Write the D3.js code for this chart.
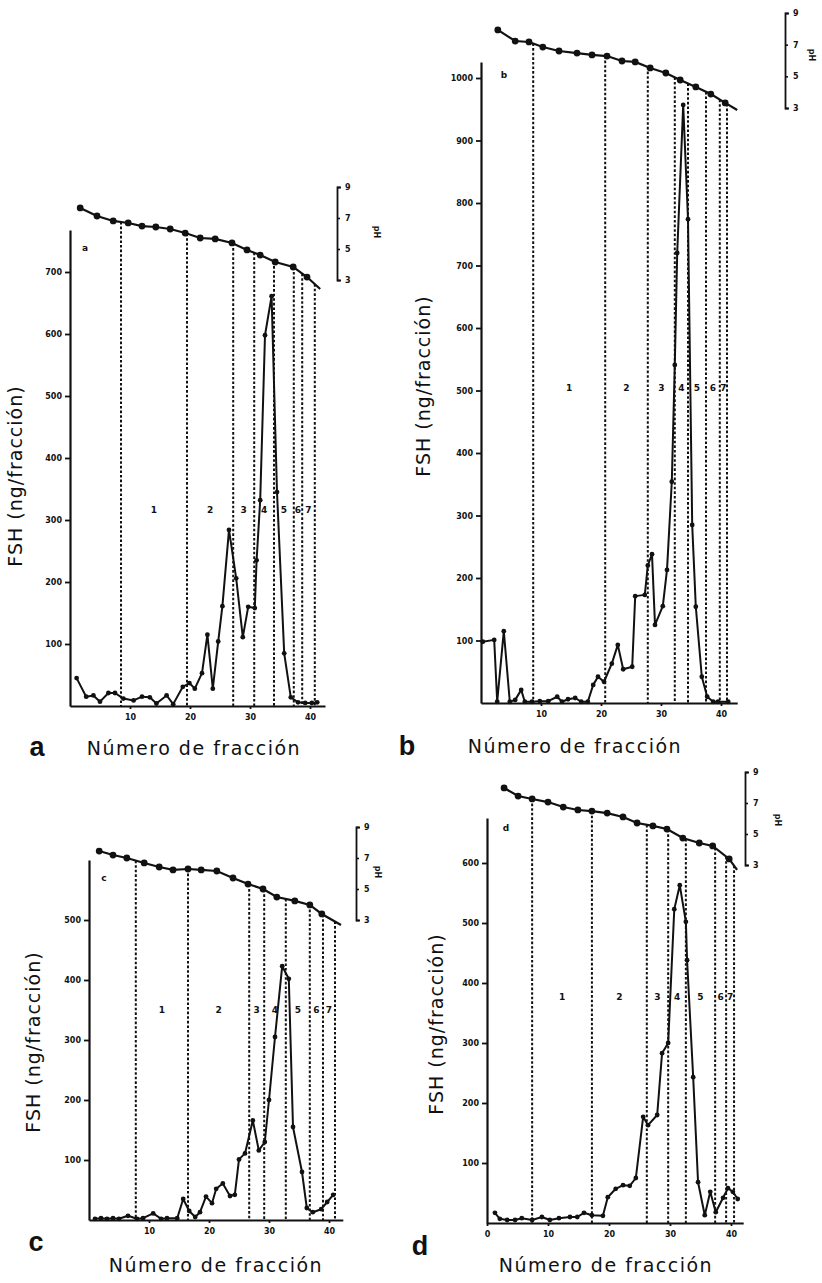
<!DOCTYPE html>
<html>
<head>
<meta charset="utf-8">
<script src="https://cdn.jsdelivr.net/npm/d3@7"></script>
<style>
  body { margin: 0; background: #fff; }
  svg { display: block; }
</style>
</head>
<body>
<div id="chart"></div>
<script>
// FSH per fraction, four isoelectric focusing runs (a, b, c, d)

var fracA = [1.1, 2.7, 3.9, 5, 6.4, 7.5, 8.9, 10.6, 12, 13.3, 14.4, 16.1, 17.2, 18.8, 19.9, 20.8, 22, 22.9, 23.8, 24.7, 25.4, 26.5, 27.7, 28.8, 29.7, 30.8, 31.1, 31.7, 32.5, 33.6, 34.5, 35.7, 36.8, 38, 39.2, 40.3, 41.2];
var fshA  = [45, 15, 17, 7, 21, 21, 12, 9, 15, 14, 4, 17, 3, 31, 37, 28, 53, 115, 28, 104, 161, 284, 206, 111, 160, 158, 235, 332, 598, 661, 345, 85, 14, 6, 5, 5, 6];

var fracB = [0.3, 2.2, 2.7, 3.8, 4.8, 5.7, 6.7, 7.3, 8.5, 9.8, 11.2, 12.7, 13.5, 14.5, 15.7, 16.7, 17.8, 18.7, 19.5, 20.5, 21.8, 22.8, 23.7, 25.2, 25.7, 27.3, 27.8, 28.5, 29, 30.3, 31, 31.8, 32.3, 32.7, 33.7, 34.5, 35.2, 35.8, 36.8, 37.7, 38.7, 39.5, 41.2];
var fshB  = [98, 101, 2, 115, 2, 5, 21, 2, 2, 3, 3, 10, 2, 6, 8, 2, 2, 29, 42, 34, 63, 93, 54, 58, 171, 173, 220, 238, 125, 155, 213, 354, 541, 720, 957, 774, 285, 154, 42, 10, 2, 2, 2];

var fracC = [1, 2, 3, 4, 5, 6.5, 8, 9, 10.7, 12, 13, 14.7, 15.7, 16.7, 17.7, 18.5, 19.5, 20.5, 21.2, 22.3, 23.5, 24.3, 25, 26, 27.3, 28.3, 29.3, 30, 31, 32.2, 33.3, 34, 35.5, 36.3, 37.3, 38.7, 39.7, 40.7];
var fshC  = [2, 3, 2, 3, 2, 7, 2, 3, 11, 2, 3, 3, 35, 15, 5, 13, 39, 28, 52, 61, 40, 42, 101, 111, 166, 116, 130, 200, 305, 423, 402, 155, 80, 20, 13, 18, 30, 42];

var fracD = [1.3, 2.1, 3.3, 4.6, 5.7, 7.4, 9, 10.3, 11.8, 13.6, 14.8, 15.9, 17.2, 19, 19.8, 21.1, 22.3, 23.4, 24.4, 25.6, 26.4, 27.9, 28.7, 29.7, 30.7, 31.6, 32.6, 32.8, 33.8, 34.6, 35.7, 36.6, 37.5, 38.7, 39.5, 40.3, 41.1];
var fshD  = [17, 7, 5, 5, 8, 5, 10, 5, 8, 10, 10, 17, 13, 12, 43, 57, 63, 62, 75, 177, 163, 180, 283, 300, 523, 563, 502, 438, 243, 68, 13, 52, 18, 42, 58, 52, 40];

// pH gradient (last entry is the end of the line, drawn without a dot)
var phFracA = [1.7, 4.5, 7.2, 9.7, 12, 14.3, 16.7, 19.2, 21.7, 24.2, 27, 29.5, 31.7, 34.2, 37.2, 39.5, 41.7];
var phA     = [7.65, 7.13, 6.81, 6.68, 6.48, 6.42, 6.29, 6.03, 5.71, 5.65, 5.39, 4.94, 4.61, 4.16, 3.84, 3.19, 2.42];
var phFracB = [2.8, 5.7, 8, 10.3, 13, 16, 18.5, 21, 23.5, 25.7, 28.2, 30.8, 33.2, 35.8, 38.3, 40.7, 42.7];
var phB     = [7.93, 7.23, 7.17, 6.85, 6.6, 6.47, 6.35, 6.28, 5.97, 5.91, 5.53, 5.21, 4.77, 4.33, 3.88, 3.32, 2.87];
var phFracC = [1.7, 4, 6.3, 9.2, 11.7, 14, 16.5, 18.7, 21.3, 24, 26.5, 29, 31.3, 34.3, 36.8, 38.8, 42];
var phC     = [7.45, 7.19, 7.0, 6.68, 6.42, 6.23, 6.29, 6.23, 6.16, 5.71, 5.32, 5.0, 4.48, 4.23, 3.97, 3.39, 2.68];
var phFracD = [2.8, 5.1, 7.4, 10, 12.5, 14.9, 17.2, 19.7, 22.3, 24.6, 27.2, 29.5, 32.1, 34.8, 37, 39.7, 41];
var phD     = [7.97, 7.45, 7.26, 7.06, 6.74, 6.55, 6.48, 6.35, 6.1, 5.71, 5.52, 5.32, 4.74, 4.42, 4.23, 3.39, 2.68];

// fraction cut points (dashed lines) and the peak names between them
var cutsA = [8.5, 19.5, 27.2, 30.7, 34, 37.3, 38.7, 40.8];
var cutsB = [8.7, 20.7, 27.8, 32.3, 34.5, 37.5, 39.8, 41];
var cutsC = [7.8, 16.5, 26.7, 29.2, 32.8, 36.8, 39, 41];
var cutsD = [7.4, 17.2, 26.2, 29.7, 32.6, 37.4, 39.2, 40.5];
var peakNames = ["1", "2", "3", "4", "5", "6", "7"];

var yTicksA = [100, 200, 300, 400, 500, 600, 700];
var yTicksB = [100, 200, 300, 400, 500, 600, 700, 800, 900, 1000];
var yTicksC = [100, 200, 300, 400, 500];
var yTicksD = [100, 200, 300, 400, 500, 600];
var xTicks = [10, 20, 30, 40];
var xTicksD = [0, 10, 20, 30, 40];
var phTicks = [3, 5, 7, 9];

var yTitle = "FSH (ng/fracción)";
var xTitle = "Número de fracción";

// layout of each panel on the page (pixels)
var panels = [
  {id: "a", frac: fracA, fsh: fshA, phFrac: phFracA, ph: phA, cuts: cutsA, yTicks: yTicksA, xTicks: xTicks,
   x0: 70, pxFrac: 6, xMax: 42.5, y0: 706, pxUnit: 0.62, yTop: 230,
   phX: 337, phTop: 187, phBot: 280, phLabel: [377, 232], peakY: 513,
   inner: [85, 251], letter: [37, 756], title: [194, 755], yt: [15, 476]},
  {id: "b", frac: fracB, fsh: fshB, phFrac: phFracB, ph: phB, cuts: cutsB, yTicks: yTicksB, xTicks: xTicks,
   x0: 481, pxFrac: 6, xMax: 42.7, y0: 703, pxUnit: 0.625, yTop: 62,
   phX: 785, phTop: 13, phBot: 108, phLabel: [812, 55], peakY: 391,
   inner: [504, 78], letter: [407, 755], title: [575, 753], yt: [423, 386]},
  {id: "c", frac: fracC, fsh: fshC, phFrac: phFracC, ph: phC, cuts: cutsC, yTicks: yTicksC, xTicks: xTicks,
   x0: 89, pxFrac: 6, xMax: 42.3, y0: 1220, pxUnit: 0.6, yTop: 860,
   phX: 356, phTop: 827, phBot: 920, phLabel: [378, 872], peakY: 1013,
   inner: [104, 881], letter: [36, 1251], title: [216, 1272], yt: [33, 1042]},
  {id: "d", frac: fracD, fsh: fshD, phFrac: phFracD, ph: phD, cuts: cutsD, yTicks: yTicksD, xTicks: xTicksD,
   x0: 487, pxFrac: 6.1, xMax: 42, y0: 1223, pxUnit: 0.6, yTop: 818,
   phX: 745, phTop: 772, phBot: 865, phLabel: [778, 820], peakY: 1000,
   inner: [506, 831], letter: [420, 1255], title: [606, 1272], yt: [436, 1024]}
];

var ink = "#111";
var fmt = d3.format("d");

var svg = d3.select("#chart")
  .append("svg")
    .attr("width", 822)
    .attr("height", 1283)
    .style("background", "#fff");

panels.forEach(function(p) {
  var g = svg.append("g");

  var x = d3.scaleLinear()
    .domain([0, p.xMax])
    .range([p.x0, p.x0 + p.xMax * p.pxFrac]);
  var y = d3.scaleLinear()
    .domain([0, (p.y0 - p.yTop) / p.pxUnit])
    .range([p.y0, p.yTop]);
  var yPh = d3.scaleLinear()
    .domain([3, 9])
    .range([p.phBot, p.phTop]);

  // pH value at a given fraction
  var phAt = function(f) {
    var i = d3.bisectRight(p.phFrac, f);
    if (i <= 0) return p.ph[0];
    if (i >= p.phFrac.length) return p.ph[p.ph.length - 1];
    var t = (f - p.phFrac[i - 1]) / (p.phFrac[i] - p.phFrac[i - 1]);
    return p.ph[i - 1] + t * (p.ph[i] - p.ph[i - 1]);
  };

  // dashed cut lines
  g.selectAll(".cut")
    .data(p.cuts)
    .join("line")
      .attr("x1", function(d) { return x(d); })
      .attr("x2", function(d) { return x(d); })
      .attr("y1", function(d) { return yPh(phAt(d)); })
      .attr("y2", p.y0)
      .attr("stroke", ink)
      .attr("stroke-width", 2)
      .attr("stroke-dasharray", "2.6,2");

  // peak names between cuts
  var mids = d3.pairs(p.cuts).map(function(c) { return (c[0] + c[1]) / 2; });
  g.selectAll(".peak")
    .data(mids)
    .join("text")
      .attr("x", function(d) { return x(d); })
      .attr("y", p.peakY)
      .attr("text-anchor", "middle")
      .style("font-family", "DejaVu Sans")
      .style("font-weight", "bold")
      .style("font-size", "9px")
      .attr("fill", ink)
      .text(function(d, i) { return peakNames[i]; });

  // y axis
  var ya = g.append("g")
    .attr("transform", "translate(" + p.x0 + ",0)")
    .call(d3.axisLeft(y).tickValues(p.yTicks).tickFormat(fmt).tickSize(5).tickSizeOuter(0).tickPadding(3));
  ya.select(".domain").attr("stroke", ink).attr("stroke-width", 2.2);
  ya.selectAll(".tick line").attr("stroke", ink).attr("stroke-width", 1.8);
  ya.selectAll(".tick text")
    .style("font-family", "DejaVu Sans")
    .style("font-weight", "bold")
    .style("font-size", "8px")
    .attr("fill", ink);

  // x axis
  var xa = g.append("g")
    .attr("transform", "translate(0," + p.y0 + ")")
    .call(d3.axisBottom(x).tickValues(p.xTicks).tickFormat(fmt).tickSize(3).tickSizeOuter(0).tickPadding(5));
  xa.select(".domain").attr("stroke", ink).attr("stroke-width", 2.2);
  xa.selectAll(".tick line").attr("stroke", ink).attr("stroke-width", 1.8);
  xa.selectAll(".tick text")
    .style("font-family", "DejaVu Sans")
    .style("font-weight", "bold")
    .style("font-size", "8px")
    .attr("fill", ink);

  // FSH profile
  var pts = p.frac.map(function(f, i) { return [f, p.fsh[i]]; });
  g.append("path")
    .datum(pts)
    .attr("fill", "none")
    .attr("stroke", ink)
    .attr("stroke-width", 2)
    .attr("stroke-linejoin", "round")
    .attr("d", d3.line()
      .x(function(d) { return x(d[0]); })
      .y(function(d) { return y(d[1]); }));
  g.selectAll(".fsh")
    .data(pts)
    .join("circle")
      .attr("cx", function(d) { return x(d[0]); })
      .attr("cy", function(d) { return y(d[1]); })
      .attr("r", 2.4)
      .attr("fill", ink);

  // pH gradient
  var phPts = p.phFrac.map(function(f, i) { return [f, p.ph[i]]; });
  g.append("path")
    .datum(phPts)
    .attr("fill", "none")
    .attr("stroke", ink)
    .attr("stroke-width", 2.2)
    .attr("d", d3.line()
      .x(function(d) { return x(d[0]); })
      .y(function(d) { return yPh(d[1]); }));
  g.selectAll(".phdot")
    .data(phPts.slice(0, -1))
    .join("circle")
      .attr("cx", function(d) { return x(d[0]); })
      .attr("cy", function(d) { return yPh(d[1]); })
      .attr("r", 3.4)
      .attr("fill", ink);

  // pH bracket axis
  var pa = g.append("g")
    .attr("transform", "translate(" + p.phX + ",0)")
    .call(d3.axisRight(yPh).tickValues(phTicks).tickFormat(fmt).tickSize(3).tickSizeOuter(4).tickPadding(5));
  pa.select(".domain").attr("stroke", ink).attr("stroke-width", 1.8);
  pa.selectAll(".tick line").attr("stroke", ink).attr("stroke-width", 1.6);
  pa.selectAll(".tick text")
    .style("font-family", "DejaVu Sans")
    .style("font-weight", "bold")
    .style("font-size", "8px")
    .attr("fill", ink);
  g.append("text")
    .attr("transform", "translate(" + p.phLabel[0] + "," + p.phLabel[1] + ") rotate(90)")
    .attr("text-anchor", "middle")
    .attr("dy", "0.35em")
    .style("font-family", "DejaVu Sans")
    .style("font-weight", "bold")
    .style("font-size", "8px")
    .attr("fill", ink)
    .text("pH");

  // small panel letter inside the plot
  g.append("text")
    .attr("x", p.inner[0])
    .attr("y", p.inner[1])
    .attr("text-anchor", "middle")
    .style("font-family", "DejaVu Sans")
    .style("font-weight", "bold")
    .style("font-size", "9px")
    .attr("fill", ink)
    .text(p.id);

  // y title
  g.append("text")
    .attr("transform", "translate(" + p.yt[0] + "," + p.yt[1] + ") rotate(-90)")
    .attr("text-anchor", "middle")
    .attr("dy", "0.35em")
    .style("font-family", "DejaVu Sans")
    .style("font-size", "19px")
    .style("letter-spacing", "1px")
    .attr("fill", ink)
    .text(yTitle);

  // x title and big panel letter
  g.append("text")
    .attr("x", p.title[0])
    .attr("y", p.title[1])
    .attr("text-anchor", "middle")
    .style("font-family", "DejaVu Sans")
    .style("font-size", "19px")
    .style("letter-spacing", "1.5px")
    .attr("fill", ink)
    .text(xTitle);
  g.append("text")
    .attr("x", p.letter[0])
    .attr("y", p.letter[1])
    .attr("text-anchor", "middle")
    .style("font-family", "Liberation Sans")
    .style("font-weight", "bold")
    .style("font-size", "27px")
    .attr("fill", ink)
    .text(p.id);
});
</script>
</body>
</html>
